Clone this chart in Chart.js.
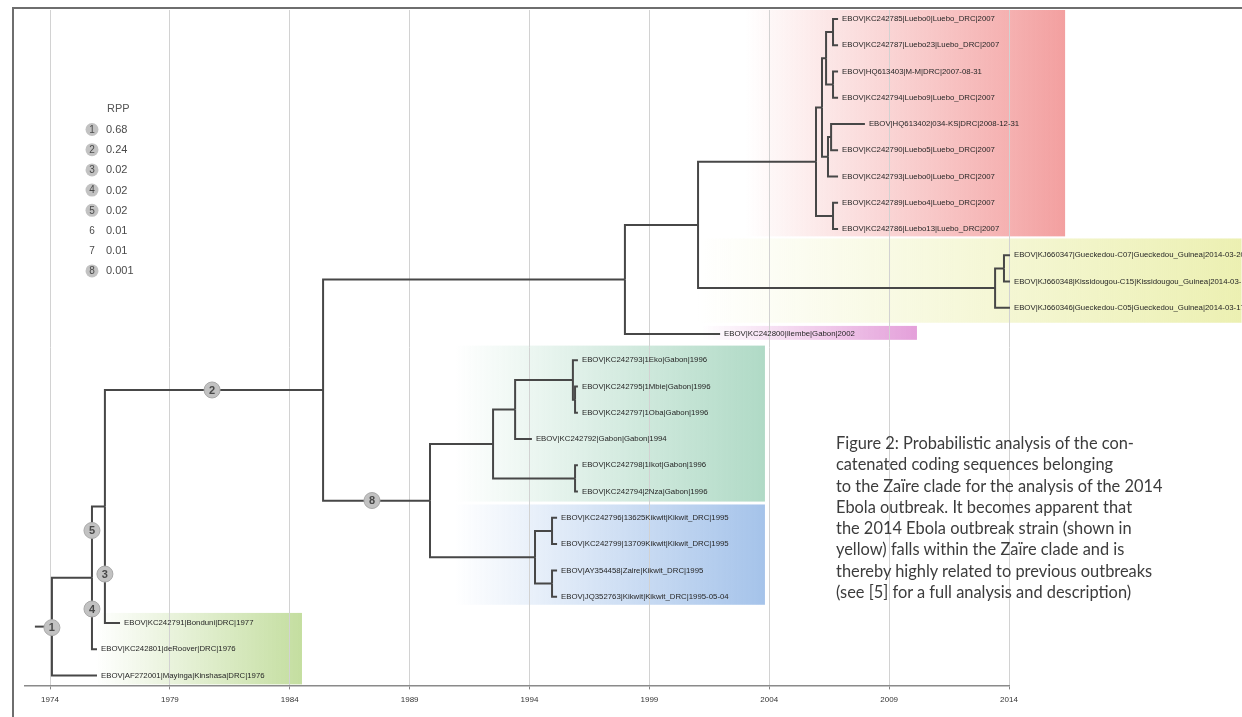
<!DOCTYPE html>
<html>
<head>
<meta charset="utf-8">
<script src="https://cdn.jsdelivr.net/npm/chart.js@4"></script>
<style>
  body { margin: 0; background: #fff; }
  #wrap { position: relative; width: 1242px; height: 717px; overflow: hidden; }
  #frame { position: absolute; left: 12px; top: 7px; width: 1240px; height: 720px;
           border-top: 2px solid #6e6e6e; border-left: 2px solid #6e6e6e; }
  #caption { position: absolute; left: 836px; top: 432px; width: 406px;
             font-family: Lato, "Open Sans", sans-serif; font-size: 16.4px; line-height: 21.3px; color: #3c3c3c; white-space: nowrap; }
</style>
</head>
<body>
<div id="wrap">
  <canvas id="treeChart" width="1242" height="717"></canvas>
  <div id="frame"></div>
  <div id="caption">Figure 2: Probabilistic analysis of the con-<br>catenated coding sequences belonging<br>to the Zaïre clade for the analysis of the 2014<br>Ebola outbreak. It becomes apparent that<br>the 2014 Ebola outbreak strain (shown in<br>yellow) falls within the Zaïre clade and is<br>thereby highly related to previous outbreaks<br>(see [5] for a full analysis and description)</div>
</div>
<script>
// leaves, top to bottom (row = index)
const leafNames = [
  'EBOV|KC242785|Luebo0|Luebo_DRC|2007',
  'EBOV|KC242787|Luebo23|Luebo_DRC|2007',
  'EBOV|HQ613403|M-M|DRC|2007-08-31',
  'EBOV|KC242794|Luebo9|Luebo_DRC|2007',
  'EBOV|HQ613402|034-KS|DRC|2008-12-31',
  'EBOV|KC242790|Luebo5|Luebo_DRC|2007',
  'EBOV|KC242793|Luebo0|Luebo_DRC|2007',
  'EBOV|KC242789|Luebo4|Luebo_DRC|2007',
  'EBOV|KC242786|Luebo13|Luebo_DRC|2007',
  'EBOV|KJ660347|Gueckedou-C07|Gueckedou_Guinea|2014-03-20',
  'EBOV|KJ660348|Kissidougou-C15|Kissidougou_Guinea|2014-03-17',
  'EBOV|KJ660346|Gueckedou-C05|Gueckedou_Guinea|2014-03-17',
  'EBOV|KC242800|Ilembe|Gabon|2002',
  'EBOV|KC242793|1Eko|Gabon|1996',
  'EBOV|KC242795|1Mbie|Gabon|1996',
  'EBOV|KC242797|1Oba|Gabon|1996',
  'EBOV|KC242792|Gabon|Gabon|1994',
  'EBOV|KC242798|1Ikot|Gabon|1996',
  'EBOV|KC242794|2Nza|Gabon|1996',
  'EBOV|KC242796|13625Kikwit|Kikwit_DRC|1995',
  'EBOV|KC242799|13709Kikwit|Kikwit_DRC|1995',
  'EBOV|AY354458|Zaire|Kikwit_DRC|1995',
  'EBOV|JQ352763|Kikwit|Kikwit_DRC|1995-05-04',
  'EBOV|KC242791|Bonduni|DRC|1977',
  'EBOV|KC242801|deRoover|DRC|1976',
  'EBOV|AF272001|Mayinga|Kinshasa|DRC|1976'
];
const leafDates = [2006.87, 2006.87, 2006.87, 2006.87, 2007.99, 2006.87, 2006.87, 2006.87, 2006.87,
  2014.04, 2014.04, 2014.04, 2001.95, 1996.02, 1996.02, 1996.02, 1994.10, 1996.02, 1996.02,
  1995.15, 1995.15, 1995.15, 1995.15, 1976.92, 1975.96, 1975.96];

// internal nodes (numbers = leaf rows, strings = node ids)
const nodeIds = ['n01', 'n23', 'nL3', 'nL5', 'nL4', 'nL1', 'n78', 'nLuebo', 'nG9', 'nGuinea', 'nE', 'nD',
  'nU', 'nT', 'nI', 'nP', 'nH', 'nK1', 'nK2', 'nK', 'nG', 'nC', 'nB', 'nA', 'root'];
const nodeDates = [2006.66, 2006.66, 2006.37, 2006.58, 2006.45, 2006.20, 2006.66, 2005.95, 2013.79, 2013.42, 2001.03, 1997.98,
  1995.90, 1995.81, 1993.40, 1995.90, 1992.48, 1994.94, 1994.94, 1994.23, 1989.85, 1985.39, 1976.29, 1975.75, 1974.08];
const nodeChildren = [[0, 1], [2, 3], ['n01', 'n23'], [4, 5], ['nL5', 6], ['nL3', 'nL4'], [7, 8], ['nL1', 'n78'],
  [9, 10], ['nG9', 11], ['nLuebo', 'nGuinea'], ['nE', 12],
  [14, 15], [13, 'nU'], ['nT', 16], [17, 18], ['nI', 'nP'], [19, 20], [21, 22], ['nK1', 'nK2'], ['nH', 'nK'],
  ['nD', 'nG'], ['nC', 23], ['nB', 24], ['nA', 25]];
const rootStubDate = 1973.37;

// RPP markers on the tree
const markIds = [1, 2, 3, 4, 5, 8];
const markDates = [1974.08, 1980.76, 1976.29, 1975.75, 1975.75, 1987.43];
const markRows = [23.18, 14.13, 21.14, 22.47, 19.48, 18.34];

// RPP legend
const rppIds = [1, 2, 3, 4, 5, 6, 7, 8];
const rppValues = ['0.68', '0.24', '0.02', '0.02', '0.02', '0.01', '0.01', '0.001'];

// clade highlight boxes
const cladeFrom = [2003.0, 2001.0, 2001.2, 1990.9, 1990.9, 1975.9];
const cladeTo = [2016.34, 2023.7, 2010.16, 2003.82, 2003.82, 1984.51];
const cladeTop = [-0.34, 8.36, 11.69, 12.44, 18.49, 22.62];
const cladeBottom = [8.28, 11.57, 12.22, 18.38, 22.31, 25.34];
const cladeColors = ['243,160,160', '236,240,178', '228,160,218', '176,218,198', '165,195,234', '196,222,160'];

const tickYears = [1974, 1979, 1984, 1989, 1994, 1999, 2004, 2009, 2014];

// tree layout: row of each internal node = mean of its children
const nodeRow = {}, nodeDate = {};
nodeIds.forEach((id, i) => { nodeDate[id] = nodeDates[i]; });
const rowOf = (c) => typeof c === 'number' ? c : nodeRow[c];
const dateOf = (c) => typeof c === 'number' ? leafDates[c] : nodeDate[c];
nodeIds.forEach((id, i) => {
  const rows = nodeChildren[i].map(rowOf);
  nodeRow[id] = rows.reduce((a, b) => a + b, 0) / rows.length;
});

const lineStyle = { showLine: true, borderColor: '#474747', borderWidth: 2, pointRadius: 0, clip: false, fill: false, order: 1 };
const datasets = [];
nodeIds.forEach((id, i) => {
  nodeChildren[i].forEach((c) => {
    datasets.push(Object.assign({
      data: [{ x: nodeDate[id], y: nodeRow[id] }, { x: nodeDate[id], y: rowOf(c) }, { x: dateOf(c), y: rowOf(c) }]
    }, lineStyle));
  });
});
datasets.push(Object.assign({ data: [{ x: rootStubDate, y: nodeRow.root }, { x: nodeDate.root, y: nodeRow.root }] }, lineStyle));
const markIndex = datasets.length;
// order 0 -> drawn after the branch lines
datasets.push({
  data: markDates.map((d, i) => ({ x: d, y: markRows[i] })),
  pointRadius: 8, pointBackgroundColor: '#c2c2c2', pointBorderColor: '#a8a8a8', pointBorderWidth: 1,
  showLine: false, clip: false, order: 0
});

const treePlugin = {
  id: 'tree',
  beforeDraw(chart) {
    const ctx = chart.ctx, xs = chart.scales.x, ys = chart.scales.y;
    ctx.save();
    cladeColors.forEach((c, i) => {
      const x0 = xs.getPixelForValue(cladeFrom[i]), x1 = xs.getPixelForValue(cladeTo[i]);
      const y0 = ys.getPixelForValue(cladeTop[i]), y1 = ys.getPixelForValue(cladeBottom[i]);
      const g = ctx.createLinearGradient(x0, 0, x1, 0);
      g.addColorStop(0, 'rgba(' + c + ',0)');
      g.addColorStop(1, 'rgba(' + c + ',1)');
      ctx.fillStyle = g;
      ctx.fillRect(x0, y0, x1 - x0, y1 - y0);
    });
    ctx.restore();
  },
  afterDatasetsDraw(chart) {
    const ctx = chart.ctx, xs = chart.scales.x, ys = chart.scales.y;
    ctx.save();
    // leaf labels
    ctx.font = '7.8px "Liberation Sans", Arial, sans-serif';
    ctx.fillStyle = '#262626';
    ctx.textBaseline = 'middle';
    leafNames.forEach((n, i) => {
      ctx.fillText(n, xs.getPixelForValue(leafDates[i]) + 4, ys.getPixelForValue(i));
    });
    // marker numbers
    ctx.font = 'bold 11px "Liberation Sans", Arial, sans-serif';
    ctx.fillStyle = '#484848';
    ctx.textAlign = 'center';
    chart.getDatasetMeta(markIndex).data.forEach((p, i) => {
      ctx.fillText(String(markIds[i]), p.x, p.y + 0.5);
    });
    // RPP legend
    ctx.fillStyle = '#555';
    ctx.textAlign = 'left';
    ctx.font = '11px "Liberation Sans", Arial, sans-serif';
    ctx.fillText('RPP', 107, 109);
    rppIds.forEach((id, i) => {
      const y = 129.5 + i * 20.2;
      if (markIds.includes(id)) {
        ctx.beginPath();
        ctx.arc(92, y, 6.5, 0, Math.PI * 2);
        ctx.fillStyle = '#c2c2c2';
        ctx.fill();
      }
      ctx.fillStyle = '#4a4a4a';
      ctx.textAlign = 'center';
      ctx.font = '10px "Liberation Sans", Arial, sans-serif';
      ctx.fillText(String(id), 92, y + 0.5);
      ctx.textAlign = 'left';
      ctx.font = '11px "Liberation Sans", Arial, sans-serif';
      ctx.fillText(rppValues[i], 106, y + 0.5);
    });
    ctx.restore();
  }
};

new Chart(document.getElementById('treeChart'), {
  type: 'scatter',
  data: { datasets: datasets },
  options: {
    responsive: false,
    animation: false,
    events: [],
    layout: { padding: { left: 25, right: 233, top: 10, bottom: 6 } },
    plugins: { legend: { display: false }, tooltip: { enabled: false } },
    scales: {
      x: {
        type: 'linear',
        min: 1972.957,
        max: 2014,
        afterBuildTicks: (scale) => { scale.ticks = tickYears.map((v) => ({ value: v })); },
        ticks: { callback: (v) => String(v), color: '#333', font: { size: 8, family: 'Liberation Sans' }, padding: 6, maxRotation: 0, autoSkip: false },
        grid: { color: '#d2d2d2', lineWidth: 1, tickLength: 4, tickColor: '#888' },
        border: { display: true, color: '#8a8a8a', width: 1.5 }
      },
      y: { type: 'linear', display: false, reverse: true, min: -0.34, max: 25.38 }
    }
  },
  plugins: [treePlugin]
});
</script>
</body>
</html>
